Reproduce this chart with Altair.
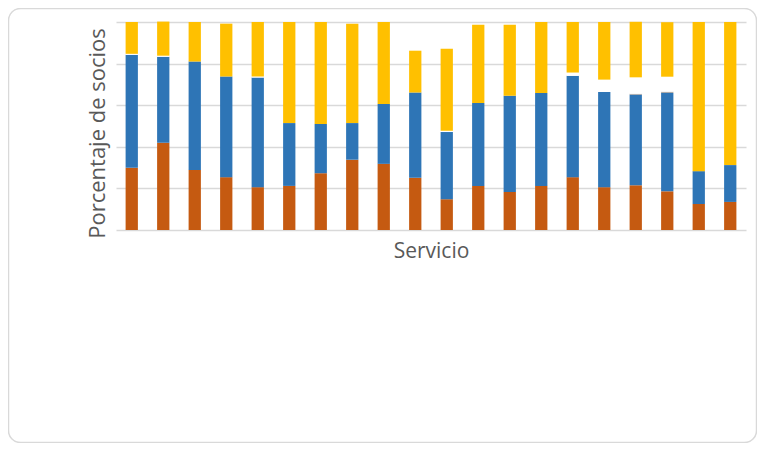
import pandas as pd
import altair as alt

servicios = [f"Servicio {i}" for i in range(1, 21)]
series = ["Serie 1", "Serie 2", "Serie 3", "Serie 4", "Serie 5"]
colores = ["#C55A11", "#2E75B6", "#A5A5A5", "#FFFFFF", "#FFC000"]

# porcentaje de socios por servicio
serie1 = [29.9, 42.0, 28.9, 25.4, 20.6, 21.2, 27.3, 33.8, 31.8, 25.1,
          14.8, 21.2, 18.3, 21.2, 25.4, 20.6, 21.5, 18.6, 12.5, 13.5]
serie2 = [54.3, 41.3, 52.1, 48.4, 52.7, 30.2, 23.7, 17.6, 28.8, 41.0,
          32.3, 39.9, 46.2, 44.7, 48.7, 45.8, 43.5, 47.3, 15.8, 17.7]
serie3 = [0, 0, 0, 0, 0, 0, 0, 0, 0, 0,
          0, 0, 0, 0, 0, 0, 0.5, 0.6, 0, 0]
serie4 = [0.5, 0.5, 0, 0, 0.5, 0, 0, 0, 0, 0,
          0.6, 0, 0, 0, 1.6, 5.9, 7.9, 7.2, 0, 0]
serie5 = [15.3, 16.4, 19.0, 25.4, 26.2, 48.6, 49.0, 47.8, 39.4, 20.1,
          39.4, 37.6, 34.2, 34.1, 24.3, 27.7, 26.7, 26.2, 71.7, 68.8]

rows = []
for k, vals in enumerate([serie1, serie2, serie3, serie4, serie5]):
    for s, v in zip(servicios, vals):
        rows.append({"servicio": s, "serie": series[k], "orden": k, "valor": v})
df = pd.DataFrame(rows)

grey = "#595959"

bars = alt.Chart(df).mark_bar().encode(
    x=alt.X("servicio:N", sort=servicios, title="Servicio",
            scale=alt.Scale(paddingInner=0.61, paddingOuter=0.305),
            axis=alt.Axis(labels=False, ticks=False, domain=False,
                          titleFontSize=21, titleColor=grey, titleFont="Open Sans",
                          titleFontWeight="normal", titlePadding=10)),
    y=alt.Y("valor:Q", stack="zero", title="Porcentaje de socios",
            scale=alt.Scale(domain=[0, 100], nice=False),
            axis=alt.Axis(values=[0, 20, 40, 60, 80, 100], labels=False, ticks=False,
                          domain=False, gridColor="#D9D9D9", gridWidth=1.5,
                          titleFontSize=22, titleColor=grey, titleFont="Open Sans",
                          titleFontWeight="normal", titlePadding=7, titleY=111)),
    color=alt.Color("serie:N", scale=alt.Scale(domain=series, range=colores), legend=None),
    order=alt.Order("orden:Q"),
)

# borde redondeado del area del grafico
borde = alt.Chart(pd.DataFrame({"b": [1]})).mark_rect(
    fill="white", fillOpacity=0, stroke="#D9D9D9", strokeWidth=1.5, cornerRadius=12
).encode(
    x=alt.value(-107.5), x2=alt.value(640.5),
    y=alt.value(-13.5), y2=alt.value(420.5),
)

chart = alt.layer(borde, bars).properties(
    width=630, height=208,
    padding={"left": 108, "top": 14, "right": 11, "bottom": 213},
    autosize=alt.AutoSizeParams(type="none"),
).configure_view(stroke=None)

chart.save("out.html", embed_options={"renderer": "svg", "actions": False})
